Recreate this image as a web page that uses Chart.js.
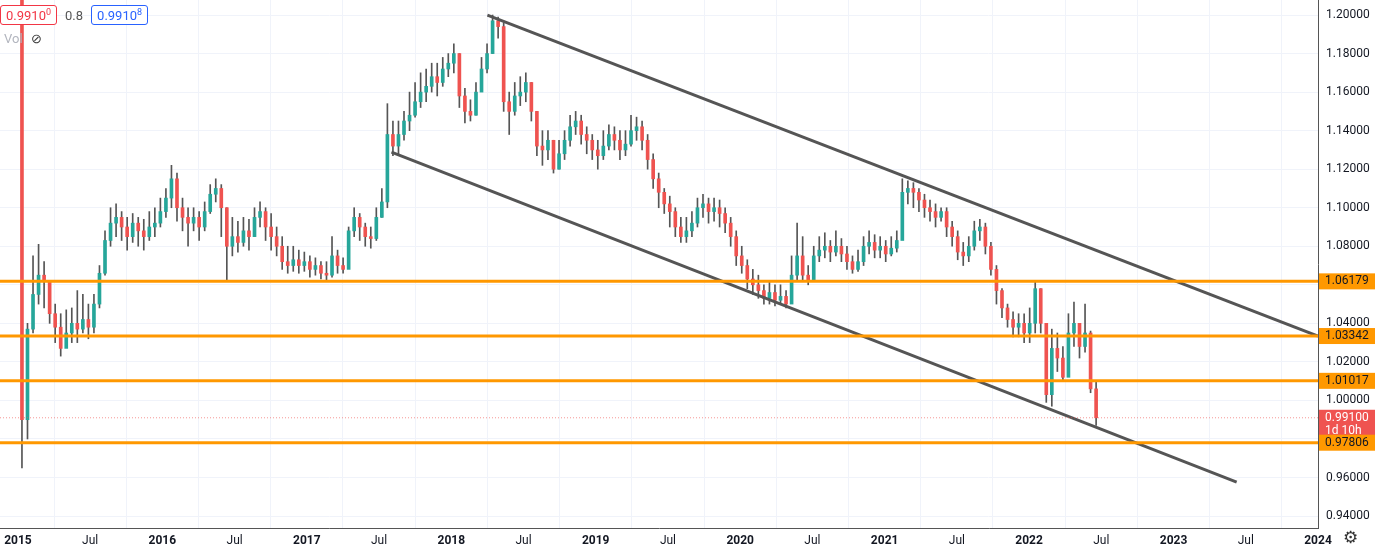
<!DOCTYPE html>
<html>
<head>
<meta charset="utf-8">
<script src="https://cdn.jsdelivr.net/npm/chart.js@4"></script>
<style>
  body { margin: 0; background: #fff; font-family: Roboto, "Noto Sans", sans-serif; }
  #wrap { position: relative; width: 1378px; height: 549px; }
  .legend { position: absolute; top: 5px; left: 0; display: flex; align-items: center; font-size: 13px; }
  .box { border: 1px solid; border-radius: 3px; padding: 1px 5px; background: #fff; }
  .vol { position: absolute; top: 31px; left: 4px; font-size: 13px; color: #b2b5be; }
  .vol b { color: #333; font-weight: normal; margin-left: 8px; }
  .gear { position: absolute; right: 20px; bottom: 2px; font-size: 17px; color: #333; }
</style>
</head>
<body>
<div id="wrap">
  <canvas id="chart" width="1378" height="549"></canvas>
  <div class="legend">
    <span class="box" style="border-color:#f23645;color:#f23645">0.9910<sup style="font-size:9px">0</sup></span>
    <span style="color:#555;margin:0 8px">0.8</span>
    <span class="box" style="border-color:#2962ff;color:#2962ff">0.9910<sup style="font-size:9px">8</sup></span>
  </div>
  <div class="vol">Vol<b>&#x2298;</b></div>
  <div class="gear">&#x2699;</div>
</div>
<script>
// two-week candles, EUR/CHF 2015 - mid 2022
const firstOpen = 1.2085;
const startYear = 2015.028;
const closes = [
  0.990, 1.037, 1.055, 1.065, 1.062, 1.045, 1.038, 1.027, 1.035, 1.040,
  1.037, 1.042, 1.038, 1.050, 1.066, 1.083, 1.092, 1.095, 1.090, 1.085,
  1.092, 1.088, 1.085, 1.090, 1.092, 1.098, 1.105, 1.115, 1.100, 1.095,
  1.092, 1.095, 1.090, 1.098, 1.107, 1.110, 1.100, 1.080, 1.085, 1.082,
  1.088, 1.085, 1.095, 1.098, 1.090, 1.085, 1.080, 1.072, 1.070, 1.073,
  1.070, 1.072, 1.068, 1.070, 1.066, 1.065, 1.075, 1.070, 1.068, 1.088,
  1.095, 1.090, 1.085, 1.084, 1.095, 1.103, 1.138, 1.132, 1.138, 1.145,
  1.148, 1.155, 1.160, 1.163, 1.168, 1.165, 1.172, 1.175, 1.180, 1.158,
  1.150, 1.148, 1.160, 1.172, 1.180, 1.197, 1.194, 1.155, 1.150, 1.158,
  1.160, 1.165, 1.150, 1.132, 1.130, 1.135, 1.120, 1.128, 1.135, 1.142,
  1.145, 1.138, 1.135, 1.130, 1.127, 1.132, 1.138, 1.135, 1.130, 1.133,
  1.140, 1.142, 1.135, 1.125, 1.115, 1.108, 1.102, 1.098, 1.090, 1.085,
  1.088, 1.092, 1.100, 1.102, 1.098, 1.100, 1.097, 1.092, 1.085, 1.075,
  1.070, 1.063, 1.060, 1.057, 1.053, 1.056, 1.052, 1.054, 1.050, 1.065,
  1.075, 1.065, 1.062, 1.075, 1.078, 1.080, 1.077, 1.080, 1.076, 1.072,
  1.068, 1.072, 1.080, 1.082, 1.078, 1.080, 1.076, 1.079, 1.083, 1.108,
  1.110, 1.108, 1.104, 1.100, 1.098, 1.095, 1.098, 1.090, 1.085, 1.077,
  1.075, 1.080, 1.088, 1.090, 1.080, 1.068, 1.057, 1.048, 1.042, 1.038,
  1.040, 1.035, 1.040, 1.058, 1.040, 1.003, 1.027, 1.022, 1.012, 1.035,
  1.040, 1.028, 1.035, 1.006, 0.991
];
const highs = [
  1.2085, 1.040, 1.075, 1.081, 1.072, 1.060, 1.050, 1.045, 1.047, 1.048,
  1.057, 1.055, 1.050, 1.055, 1.070, 1.088, 1.100, 1.102, 1.098, 1.095,
  1.097, 1.095, 1.094, 1.098, 1.100, 1.105, 1.110, 1.122, 1.118, 1.105,
  1.100, 1.100, 1.098, 1.103, 1.112, 1.115, 1.112, 1.100, 1.095, 1.093,
  1.095, 1.094, 1.100, 1.103, 1.100, 1.097, 1.090, 1.085, 1.080, 1.080,
  1.078, 1.077, 1.075, 1.074, 1.072, 1.072, 1.085, 1.078, 1.074, 1.090,
  1.100, 1.097, 1.092, 1.090, 1.100, 1.110, 1.154, 1.145, 1.145, 1.150,
  1.160, 1.165, 1.170, 1.172, 1.175, 1.175, 1.178, 1.180, 1.185, 1.180,
  1.162, 1.156, 1.165, 1.178, 1.185, 1.200, 1.199, 1.196, 1.160, 1.165,
  1.168, 1.170, 1.165, 1.150, 1.140, 1.140, 1.135, 1.135, 1.140, 1.148,
  1.150, 1.148, 1.142, 1.138, 1.135, 1.140, 1.143, 1.142, 1.140, 1.140,
  1.148, 1.147, 1.145, 1.138, 1.128, 1.118, 1.110, 1.106, 1.100, 1.095,
  1.095, 1.098, 1.105, 1.107, 1.105, 1.105, 1.104, 1.100, 1.095, 1.088,
  1.080, 1.073, 1.068, 1.065, 1.060, 1.062, 1.060, 1.060, 1.057, 1.075,
  1.092, 1.085, 1.070, 1.080, 1.085, 1.087, 1.083, 1.088, 1.084, 1.080,
  1.075, 1.078, 1.085, 1.088, 1.086, 1.085, 1.083, 1.085, 1.088, 1.115,
  1.114, 1.113, 1.110, 1.107, 1.104, 1.102, 1.100, 1.100, 1.093, 1.088,
  1.082, 1.085, 1.093, 1.094, 1.092, 1.082, 1.070, 1.058, 1.050, 1.046,
  1.045, 1.045, 1.048, 1.062, 1.058, 1.040, 1.037, 1.035, 1.028, 1.045,
  1.051, 1.040, 1.050, 1.036, 1.010
];
const lows = [
  0.965, 0.980, 1.035, 1.050, 1.048, 1.040, 1.030, 1.023, 1.028, 1.030,
  1.030, 1.035, 1.032, 1.035, 1.048, 1.065, 1.080, 1.085, 1.083, 1.078,
  1.082, 1.080, 1.078, 1.083, 1.085, 1.090, 1.095, 1.100, 1.093, 1.088,
  1.080, 1.088, 1.083, 1.088, 1.097, 1.103, 1.085, 1.062, 1.075, 1.077,
  1.080, 1.078, 1.085, 1.090, 1.083, 1.078, 1.075, 1.068, 1.066, 1.067,
  1.066, 1.067, 1.064, 1.065, 1.063, 1.062, 1.064, 1.066, 1.066, 1.072,
  1.085, 1.083, 1.080, 1.079, 1.083, 1.095, 1.100, 1.127, 1.128, 1.135,
  1.140, 1.147, 1.152, 1.155, 1.160, 1.158, 1.163, 1.168, 1.170, 1.152,
  1.144, 1.145, 1.148, 1.162, 1.170, 1.180, 1.188, 1.150, 1.138, 1.148,
  1.153, 1.155, 1.145, 1.127, 1.122, 1.125, 1.118, 1.120, 1.125, 1.132,
  1.138, 1.133, 1.128, 1.125, 1.120, 1.125, 1.130, 1.130, 1.125, 1.127,
  1.132, 1.135, 1.130, 1.120, 1.110, 1.100, 1.097, 1.090, 1.085, 1.082,
  1.082, 1.085, 1.090, 1.095, 1.092, 1.093, 1.090, 1.087, 1.080, 1.070,
  1.066, 1.058, 1.055, 1.053, 1.050, 1.050, 1.049, 1.050, 1.048, 1.052,
  1.062, 1.062, 1.060, 1.063, 1.072, 1.074, 1.072, 1.075, 1.072, 1.068,
  1.066, 1.067, 1.070, 1.076, 1.074, 1.074, 1.072, 1.075, 1.077, 1.085,
  1.102, 1.100, 1.098, 1.095, 1.093, 1.090, 1.093, 1.085, 1.080, 1.073,
  1.070, 1.072, 1.078, 1.083, 1.076, 1.065, 1.050, 1.043, 1.038, 1.033,
  1.033, 1.030, 1.030, 1.035, 1.035, 0.999, 0.997, 1.015, 1.010, 1.022,
  1.028, 1.022, 1.025, 1.004, 0.987
];

// support / resistance levels and channel lines
const levels = [1.06179, 1.03342, 1.01017, 0.97806];
const lastPrice = 0.99100;
const upperChannel = [{ x: 2018.25, y: 1.2000 }, { x: 2024.0, y: 1.0334 }];
const lowerChannel = [{ x: 2017.586, y: 1.1289 }, { x: 2023.437, y: 0.9576 }];
const xTicks = [2015, 2015.5, 2016, 2016.5, 2017, 2017.5, 2018, 2018.5, 2019, 2019.5,
                2020, 2020.5, 2021, 2021.5, 2022, 2022.5, 2023, 2023.5, 2024];

const up = '#26a69a', down = '#ef5350';
const times = closes.map((c, i) => startYear + i * 14 / 365.25);
const opens = closes.map((c, i) => i === 0 ? firstOpen : closes[i - 1]);
const colors = closes.map((c, i) => c >= opens[i] ? up : down);

const bodies = closes.map((c, i) => ({ x: times[i], y: [opens[i], c] }));
const wicks = closes.map((c, i) => ({ x: times[i], y: [lows[i], highs[i]] }));

const X_MIN = 2014.876, X_MAX = 2024.0;
const levelSets = levels.map(v => ({
  type: 'line', data: [{ x: X_MIN, y: v }, { x: X_MAX, y: v }],
  borderColor: '#ff9800', borderWidth: 3, pointRadius: 0
}));

// price badges on the right axis
const badgePlugin = {
  id: 'badges',
  afterDraw(chart) {
    const { ctx } = chart;
    const y = chart.scales.y;
    const left = chart.chartArea.right + 1;
    ctx.save();
    ctx.font = '12px Roboto, sans-serif';
    ctx.textBaseline = 'middle';
    const py = y.getPixelForValue(lastPrice);
    ctx.fillStyle = '#ef5350';
    ctx.fillRect(left, py - 8, 56, 28);
    ctx.fillStyle = '#fff';
    ctx.fillText(lastPrice.toFixed(5), left + 6, py);
    ctx.fillText('1d 10h', left + 6, py + 13);
    levels.forEach(v => {
      const ly = y.getPixelForValue(v);
      ctx.fillStyle = '#ff9800';
      ctx.fillRect(left, ly - 8, 56, 16);
      ctx.fillStyle = '#131722';
      ctx.fillText(v.toFixed(5), left + 6, ly);
    });
    ctx.restore();
  }
};

new Chart(document.getElementById('chart'), {
  data: {
    datasets: [
      ...levelSets,
      {
        type: 'line', data: [{ x: X_MIN, y: lastPrice }, { x: X_MAX, y: lastPrice }],
        borderColor: 'rgba(239,83,80,0.6)', borderWidth: 1, borderDash: [1, 2], pointRadius: 0
      },
      {
        type: 'line', data: upperChannel,
        borderColor: '#555', borderWidth: 3, pointRadius: 0
      },
      {
        type: 'line', data: lowerChannel,
        borderColor: '#555', borderWidth: 3, pointRadius: 0
      },
      {
        type: 'bar', data: wicks, backgroundColor: '#555',
        barThickness: 1, grouped: false, order: 1
      },
      {
        type: 'bar', data: bodies, backgroundColor: colors,
        barThickness: 3, grouped: false, order: 0, minBarLength: 1
      }
    ]
  },
  options: {
    responsive: false,
    animation: false,
    layout: { padding: 0 },
    plugins: { legend: { display: false }, tooltip: { enabled: false } },
    scales: {
      x: {
        type: 'linear', min: X_MIN, max: X_MAX, offset: false,
        afterBuildTicks: s => { s.ticks = xTicks.map(v => ({ value: v })); },
        afterFit: s => { s.height = 21; s.paddingLeft = 0; s.paddingRight = 0; },
        grid: { color: '#f0f3fa', drawTicks: false },
        border: { color: '#555' },
        ticks: {
          color: '#131722', padding: 6, maxRotation: 0, autoSkip: false,
          font: ctx => ({ size: 12, family: 'Roboto', weight: ctx.tick && ctx.tick.value % 1 === 0 ? 'bold' : 'normal' }),
          callback: v => v % 1 === 0 ? String(v) : 'Jul'
        }
      },
      y: {
        position: 'right', min: 0.9338, max: 1.2078,
        afterFit: s => { s.width = 60; s.paddingTop = 0; s.paddingBottom = 0; },
        afterBuildTicks: s => {
          const t = [];
          for (let k = 94; k <= 120; k += 2) t.push({ value: k / 100 });
          s.ticks = t;
        },
        grid: { color: '#f0f3fa', drawTicks: false },
        border: { color: '#555' },
        ticks: {
          color: '#131722', padding: 8,
          font: { size: 12, family: 'Roboto' },
          callback: v => {
            const k = Math.round(v * 100);
            return (k === 106 || k === 98) ? '' : v.toFixed(5);
          }
        }
      }
    }
  },
  plugins: [badgePlugin]
});
</script>
</body>
</html>
